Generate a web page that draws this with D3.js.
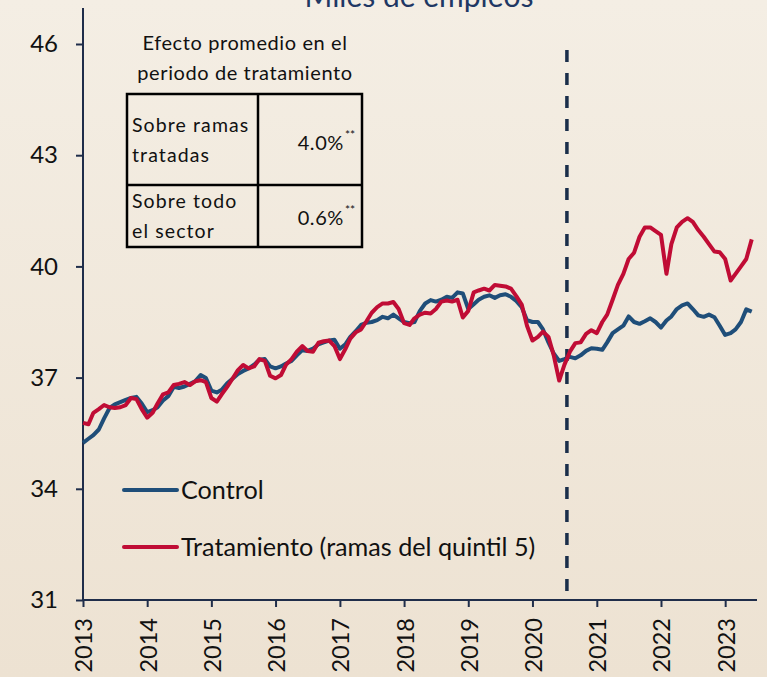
<!DOCTYPE html>
<html>
<head>
<meta charset="utf-8">
<script src="https://cdn.jsdelivr.net/npm/d3@7"></script>
<style>
  body { margin: 0; }
  svg { display: block; font-family: Lato, "Liberation Sans", sans-serif; }
</style>
</head>
<body>
<script>
// monthly series, Jan 2013 .. Jun 2023 (miles de empleos)
var startYear = 2013;
var control = [
  35.24, 35.35, 35.45, 35.6, 35.9, 36.18, 36.28, 36.34, 36.4, 36.45, 36.48, 36.3,
  36.07, 36.12, 36.2, 36.38, 36.5, 36.75, 36.72, 36.76, 36.83, 36.9, 37.07, 36.99,
  36.65, 36.6, 36.67, 36.85, 36.97, 37.1, 37.18, 37.25, 37.35, 37.48, 37.5, 37.3,
  37.25, 37.3, 37.38, 37.45, 37.6, 37.74, 37.72, 37.78, 37.9, 37.95, 38.0, 38.02,
  37.78, 37.9, 38.1, 38.25, 38.42, 38.48, 38.5, 38.55, 38.64, 38.6, 38.7, 38.6,
  38.5, 38.47, 38.5, 38.8, 39.0, 39.09, 39.05, 39.1, 39.18, 39.15, 39.3, 39.27,
  38.85, 38.98, 39.1, 39.18, 39.22, 39.15, 39.22, 39.25, 39.18, 39.07, 38.9, 38.55,
  38.5, 38.5, 38.3, 37.95, 37.65, 37.45, 37.5, 37.56, 37.52, 37.6, 37.72, 37.79,
  37.78, 37.75, 37.95, 38.2, 38.3, 38.4, 38.65, 38.5, 38.45, 38.52, 38.6, 38.5,
  38.35, 38.54, 38.65, 38.85, 38.95, 39.0, 38.85, 38.68, 38.64, 38.7, 38.63, 38.4,
  38.15, 38.2, 38.3, 38.5, 38.84, 38.78
];
var tratamiento = [
  35.78, 35.74, 36.05, 36.15, 36.26, 36.2, 36.18, 36.2, 36.26, 36.45, 36.42, 36.15,
  35.92, 36.05, 36.3, 36.55, 36.6, 36.8, 36.83, 36.88, 36.8, 36.9, 36.93, 36.88,
  36.45, 36.35, 36.55, 36.75, 36.97, 37.2, 37.34, 37.25, 37.3, 37.5, 37.45, 37.05,
  36.98, 37.07, 37.35, 37.5, 37.7, 37.85, 37.72, 37.7, 37.94, 37.98, 38.0, 37.85,
  37.5, 37.77, 38.05, 38.22, 38.3, 38.52, 38.75, 38.9, 39.0, 39.0, 39.04, 38.85,
  38.47, 38.42, 38.6, 38.7, 38.75, 38.73, 38.85, 39.05, 39.08, 39.05, 39.1, 38.62,
  38.8, 39.3, 39.35, 39.4, 39.35, 39.5, 39.48, 39.46, 39.4, 39.2, 38.97, 38.4,
  38.0, 38.1, 38.24, 38.1, 37.6, 36.92, 37.35, 37.7, 37.93, 37.95, 38.18, 38.28,
  38.2, 38.5, 38.7, 39.1, 39.5, 39.8, 40.2, 40.37, 40.8, 41.05, 41.05, 40.95,
  40.85, 39.8, 40.6, 41.05, 41.2, 41.3, 41.2, 40.98, 40.8, 40.6, 40.4, 40.38,
  40.2, 39.62, 39.8, 40.0, 40.2, 40.73
];
var yTicks = [31, 34, 37, 40, 43, 46];
var years = [2013, 2014, 2015, 2016, 2017, 2018, 2019, 2020, 2021, 2022, 2023];
var treatmentStart = new Date(2020, 6, 15);
var tableHeader = ["Efecto promedio en el", "periodo de tratamiento"];
var tableRows = [
  {label: ["Sobre ramas", "tratadas"], value: "4.0%"},
  {label: ["Sobre todo", "el sector"], value: "0.6%"}
];
var seriesNames = ["Control", "Tratamiento (ramas del quintil 5)"];
var seriesColors = ["#1F4E79", "#C00C35"];

var width = 767, height = 677;
var axisColor = "#1F2D4A";

var svg = d3.select("body").append("svg")
    .attr("width", width)
    .attr("height", height);

// background gradient
var grad = svg.append("defs").append("linearGradient")
    .attr("id", "bg").attr("x1", 0).attr("y1", 0).attr("x2", 0).attr("y2", 1);
grad.append("stop").attr("offset", "0%").attr("stop-color", "#F4EEE4");
grad.append("stop").attr("offset", "100%").attr("stop-color", "#EDE2D2");
svg.append("rect").attr("width", width).attr("height", height).attr("fill", "url(#bg)");

var x = d3.scaleTime()
    .domain([new Date(2013, 0, 1), new Date(2023, 6, 1)])
    .range([83, 757]);
var y = d3.scaleLinear()
    .domain([31, 46])
    .range([600, 44]);

function toPoints(arr){
    return arr.map(function(v, i){
        return {date: new Date(startYear, i, 1), value: v};
    });
}

// title (cut at the top, like the reference)
svg.append("text")
    .attr("x", 419).attr("y", 7)
    .attr("text-anchor", "middle")
    .attr("font-size", 30)
    .attr("fill", "#1F3864")
    .text("Miles de empleos");

// y axis
var yAxis = svg.append("g")
    .attr("transform", "translate(" + x.range()[0] + ",0)")
    .call(d3.axisLeft(y).tickValues(yTicks).tickSize(7).tickPadding(18));
yAxis.select(".domain").attr("d", "M0,8V600").attr("stroke", axisColor).attr("stroke-width", 2);
yAxis.selectAll(".tick line").attr("stroke", axisColor).attr("stroke-width", 2);
yAxis.selectAll(".tick text").attr("font-size", 24).attr("fill", "#111").attr("font-family", "Lato, sans-serif");

// x axis
var xAxis = svg.append("g")
    .attr("transform", "translate(0," + y(31) + ")")
    .call(d3.axisBottom(x)
        .tickValues(years.map(function(yr){ return new Date(yr, 0, 1); }))
        .tickFormat(d3.timeFormat("%Y"))
        .tickSize(7));
xAxis.select(".domain").attr("d", "M" + x.range()[0] + ",0H" + x.range()[1]).attr("stroke", axisColor).attr("stroke-width", 2);
xAxis.selectAll(".tick line").attr("stroke", axisColor).attr("stroke-width", 2);
xAxis.selectAll(".tick text")
    .attr("font-size", 23.5).attr("fill", "#111").attr("font-family", "Lato, sans-serif")
    .attr("transform", "rotate(-90)")
    .attr("text-anchor", "end")
    .attr("x", -18).attr("y", 0).attr("dy", "0.38em");

// treatment start
svg.append("line")
    .attr("x1", x(treatmentStart)).attr("x2", x(treatmentStart))
    .attr("y1", 50).attr("y2", y(31))
    .attr("stroke", "#1A2E4A").attr("stroke-width", 3.5)
    .attr("stroke-dasharray", "12,11");

// series
var line = d3.line()
    .x(function(d){ return x(d.date); })
    .y(function(d){ return y(d.value); });

[control, tratamiento].forEach(function(s, i){
    svg.append("path")
        .datum(toPoints(s))
        .attr("fill", "none")
        .attr("stroke", seriesColors[i])
        .attr("stroke-width", 4)
        .attr("stroke-linejoin", "round")
        .attr("d", line);
});

// legend
var legendY = [490, 547];
seriesNames.forEach(function(name, i){
    svg.append("line")
        .attr("x1", 124).attr("x2", 177)
        .attr("y1", legendY[i]).attr("y2", legendY[i])
        .attr("stroke", seriesColors[i]).attr("stroke-width", 4)
        .attr("stroke-linecap", "round");
    svg.append("text")
        .attr("x", 181).attr("y", legendY[i]).attr("dy", "0.35em")
        .attr("font-size", 25.2).attr("fill", "#111")
        .text(name);
});

// effect table
var tbl = svg.append("g");
tableHeader.forEach(function(t, i){
    tbl.append("text")
        .attr("x", 245).attr("y", 50 + i * 30)
        .attr("text-anchor", "middle")
        .attr("font-size", 20).attr("fill", "#111")
        .attr("letter-spacing", 0.6)
        .text(t);
});
tbl.append("rect")
    .attr("x", 127).attr("y", 94).attr("width", 235).attr("height", 153)
    .attr("fill", "none").attr("stroke", "#000").attr("stroke-width", 2.5);
tbl.append("line").attr("x1", 258).attr("x2", 258).attr("y1", 94).attr("y2", 247)
    .attr("stroke", "#000").attr("stroke-width", 2.5);
tbl.append("line").attr("x1", 127).attr("x2", 362).attr("y1", 185).attr("y2", 185)
    .attr("stroke", "#000").attr("stroke-width", 2.5);

var rowTop = [132, 208], valueY = [150, 225];
tableRows.forEach(function(r, i){
    r.label.forEach(function(l, j){
        tbl.append("text")
            .attr("x", 132).attr("y", rowTop[i] + j * 30)
            .attr("font-size", 19.5).attr("fill", "#111")
            .attr("letter-spacing", 1.1)
            .text(l);
    });
    tbl.append("text")
        .attr("x", 344).attr("y", valueY[i])
        .attr("text-anchor", "end")
        .attr("font-size", 20).attr("fill", "#111")
        .attr("letter-spacing", 0.6)
        .text(r.value);
    tbl.append("text")
        .attr("x", 345).attr("y", valueY[i] - 11)
        .attr("font-size", 12).attr("fill", "#111")
        .text("**");
});
</script>
</body>
</html>
